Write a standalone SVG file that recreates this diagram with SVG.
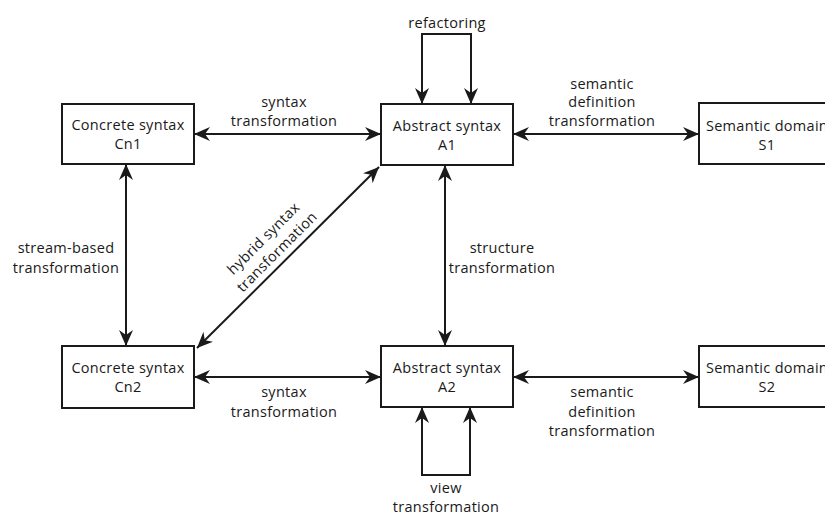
<svg xmlns="http://www.w3.org/2000/svg" width="825" height="516" viewBox="0 0 825 516">
<style>
text{font-family:"Open Sans","Liberation Sans",sans-serif;font-size:14.5px;letter-spacing:0.3px;fill:#1a1a1a;text-anchor:middle}
.box{fill:#fff;stroke:#1a1a1a;stroke-width:2}
.c{fill:none;stroke:#1a1a1a;stroke-width:2}
</style>
<defs>
<marker id="ah" viewBox="0 0 16 14" refX="16" refY="7" markerWidth="16" markerHeight="14" markerUnits="userSpaceOnUse" orient="auto-start-reverse">
<path d="M16,7 L0,0 L5,7 L0,14 Z" fill="#1a1a1a"/>
</marker>
</defs>
<rect width="825" height="516" fill="#fff"/>
<g id="connectors">
<path class="c" d="M194,134 H381" marker-start="url(#ah)" marker-end="url(#ah)"/>
<path class="c" d="M513,134 H699" marker-start="url(#ah)" marker-end="url(#ah)"/>
<path class="c" d="M194,377 H381" marker-start="url(#ah)" marker-end="url(#ah)"/>
<path class="c" d="M513,377 H699" marker-start="url(#ah)" marker-end="url(#ah)"/>
<path class="c" d="M126,164 V346" marker-start="url(#ah)" marker-end="url(#ah)"/>
<path class="c" d="M445,165 V346" marker-start="url(#ah)" marker-end="url(#ah)"/>
<path class="c" d="M197,348 L379,167" marker-start="url(#ah)" marker-end="url(#ah)"/>
<path class="c" d="M422,104 V34 H471 V104" marker-start="url(#ah)" marker-end="url(#ah)"/>
<path class="c" d="M422,407 V475 H470 V407" marker-start="url(#ah)" marker-end="url(#ah)"/>
<text x="447" y="28">refactoring</text>
<text x="284" y="107">syntax</text>
<text x="284" y="126">transformation</text>
<text x="602" y="89">semantic</text>
<text x="602" y="107">definition</text>
<text x="602" y="126">transformation</text>
<text x="66" y="253">stream-based</text>
<text x="66" y="273">transformation</text>
<text x="502" y="253">structure</text>
<text x="502" y="273">transformation</text>
<text x="284" y="397">syntax</text>
<text x="284" y="417">transformation</text>
<text x="602" y="397">semantic</text>
<text x="602" y="417">definition</text>
<text x="602" y="436">transformation</text>
<text x="446" y="493">view</text>
<text x="446" y="512">transformation</text>
<g transform="translate(286,261) rotate(-45)">
<text x="0" y="-27">hybrid syntax</text>
<text x="0" y="-8">transformation</text>
</g>
</g>
<g id="cn1"><rect class="box" x="62" y="104" width="132" height="60"/><text x="128" y="130">Concrete syntax</text><text x="128" y="149">Cn1</text></g>
<g id="a1"><rect class="box" x="381" y="104" width="132" height="61"/><text x="447" y="131">Abstract syntax</text><text x="447" y="150">A1</text></g>
<g id="s1"><rect class="box" x="699" y="103" width="140" height="61"/><text x="767" y="131">Semantic domain</text><text x="767" y="150">S1</text></g>
<g id="cn2"><rect class="box" x="62" y="346" width="132" height="62"/><text x="128" y="373">Concrete syntax</text><text x="128" y="392">Cn2</text></g>
<g id="a2"><rect class="box" x="381" y="346" width="132" height="61"/><text x="447" y="373">Abstract syntax</text><text x="447" y="392">A2</text></g>
<g id="s2"><rect class="box" x="699" y="346" width="140" height="61"/><text x="767" y="373">Semantic domain</text><text x="767" y="392">S2</text></g>
</svg>
